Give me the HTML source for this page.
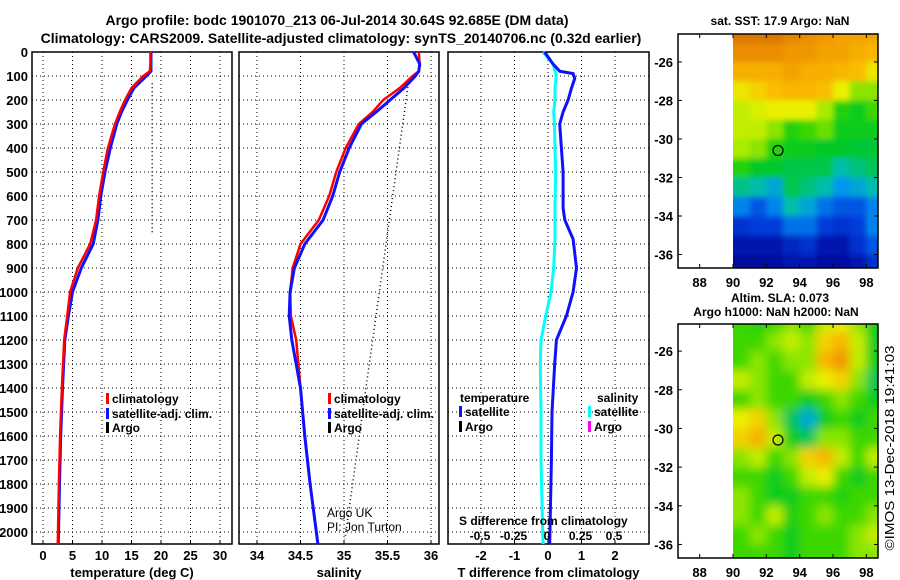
<!DOCTYPE html>
<html><head><meta charset="utf-8"><style>
body{margin:0;background:#fff;width:900px;height:580px;overflow:hidden}
svg{display:block;font-family:"Liberation Sans",Arial,sans-serif;font-weight:bold}
</style></head><body>
<svg id="c" width="900" height="580" viewBox="0 0 900 580" xmlns="http://www.w3.org/2000/svg">
<text x="337" y="25" font-size="14" text-anchor="middle">Argo profile: bodc 1901070_213 06-Jul-2014 30.64S 92.685E (DM data)</text>
<text x="341" y="43" font-size="14" text-anchor="middle">Climatology: CARS2009. Satellite-adjusted climatology: synTS_20140706.nc (0.32d earlier)</text>
<text x="780" y="25" font-size="12" text-anchor="middle">sat. SST: 17.9 Argo: NaN</text>
<text x="780" y="302" font-size="12" text-anchor="middle">Altim. SLA: 0.073</text>
<text x="776" y="316" font-size="12" text-anchor="middle">Argo h1000: NaN h2000: NaN</text>
<text transform="translate(894,448) rotate(-90)" font-size="12.5" font-weight="normal" text-anchor="middle" textLength="205" lengthAdjust="spacingAndGlyphs">©IMOS 13-Dec-2018 19:41:03</text>
<text x="327" y="517" font-size="12" font-weight="normal">Argo UK</text>
<text x="327" y="531" font-size="12" font-weight="normal">PI: Jon Turton</text>
<g id="g"></g>
</svg>
<script>
// ---- data ----
const depths = [0,50,80,100,150,200,250,300,400,500,600,700,800,900,1000,1100,1200,1400,1600,1800,2050];
const tempClim = [18.2,18.2,18.1,17.0,15.0,13.9,13.0,12.2,11.0,10.2,9.5,9.0,8.0,5.9,4.6,4.1,3.6,3.2,2.9,2.7,2.5];
const tempSat  = [18.3,18.3,18.3,17.5,15.4,14.3,13.3,12.5,11.4,10.5,9.8,9.3,8.5,6.5,5.0,4.3,3.7,3.3,3.0,2.8,2.6];
const salClim = [35.86,35.87,35.86,35.79,35.64,35.45,35.33,35.17,35.02,34.91,34.83,34.71,34.50,34.41,34.38,34.39,34.45,34.50,34.55,34.61,34.70];
const salSat  = [35.80,35.87,35.86,35.82,35.69,35.53,35.37,35.20,35.06,34.95,34.87,34.76,34.55,34.43,34.38,34.37,34.40,34.50,34.55,34.61,34.70];
const argoDepthT = [130,760];
const argoTemp = [18.5,18.5];
const argoDepthS = [130,783,2030];
const argoSal = [35.74,35.49,35.01];
const diffDepths = [0,50,80,90,110,150,200,250,300,400,500,650,700,780,900,1000,1100,1200,1300,1500,1700,2050];
const tDiff = [-0.1,0.15,0.35,0.75,0.8,0.7,0.6,0.45,0.35,0.4,0.45,0.45,0.5,0.75,0.85,0.75,0.55,0.25,0.2,0.12,0.1,0.05];
const sDiff = [-0.03,0.045,0.06,0.067,0.067,0.06,0.06,0.05,0.055,0.06,0.065,0.06,0.06,0.06,0.05,0.03,-0.01,-0.045,-0.05,-0.045,-0.045,-0.03];
const depthTicks = [0,100,200,300,400,500,600,700,800,900,1000,1100,1200,1300,1400,1500,1600,1700,1800,1900,2000];
const tempTicks = [0,5,10,15,20,25,30];
const salTicks = [34,34.5,35,35.5,36];
const tdTicks = [-2,-1,0,1,2];
const sdTicks = [-0.5,-0.25,0,0.25,0.5];
const mapLons = [88,90,92,94,96,98];
const mapLats = [-26,-28,-30,-32,-34,-36];
const sst = [
[0.85,0.85,0.85,0.82,0.8,0.78,0.75,0.75,0.75],
[0.8,0.8,0.8,0.78,0.78,0.75,0.75,0.72,0.7],
[0.72,0.72,0.72,0.75,0.72,0.72,0.7,0.68,0.62],
[0.62,0.65,0.68,0.7,0.7,0.68,0.6,0.5,0.5],
[0.55,0.58,0.6,0.6,0.6,0.52,0.42,0.4,0.45],
[0.55,0.55,0.5,0.42,0.45,0.48,0.4,0.4,0.4],
[0.52,0.5,0.42,0.4,0.4,0.38,0.38,0.37,0.37],
[0.42,0.38,0.38,0.36,0.36,0.36,0.3,0.33,0.35],
[0.32,0.3,0.25,0.36,0.33,0.3,0.22,0.25,0.3],
[0.2,0.15,0.2,0.3,0.25,0.18,0.15,0.15,0.2],
[0.1,0.12,0.12,0.18,0.18,0.12,0.1,0.12,0.2],
[0.05,0.05,0.05,0.08,0.1,0.05,0.05,0.1,0.15],
[0.02,0.02,0.03,0.05,0.05,0.03,0.03,0.05,0.1]];
const sla = [
[0.45,0.42,0.45,0.5,0.45,0.55,0.6,0.5,0.4],
[0.45,0.45,0.5,0.55,0.5,0.65,0.7,0.55,0.4],
[0.45,0.5,0.45,0.5,0.5,0.7,0.78,0.55,0.4],
[0.55,0.5,0.45,0.45,0.55,0.6,0.65,0.5,0.35],
[0.45,0.5,0.45,0.45,0.4,0.45,0.5,0.45,0.4],
[0.6,0.65,0.5,0.35,0.25,0.4,0.45,0.4,0.45],
[0.65,0.72,0.55,0.4,0.35,0.5,0.5,0.45,0.45],
[0.5,0.55,0.45,0.5,0.65,0.7,0.55,0.45,0.55],
[0.45,0.45,0.4,0.45,0.55,0.6,0.45,0.4,0.45],
[0.5,0.45,0.4,0.4,0.45,0.45,0.42,0.45,0.45],
[0.5,0.45,0.55,0.42,0.45,0.5,0.45,0.45,0.5],
[0.45,0.5,0.45,0.4,0.45,0.45,0.45,0.5,0.55],
[0.45,0.45,0.45,0.4,0.45,0.45,0.45,0.5,0.5]];
const argoLon = 92.7, argoLat = -30.6;

// ---- drawing ----
const NS='http://www.w3.org/2000/svg', G=document.getElementById('g');
function el(t,a,p){const e=document.createElementNS(NS,t);for(const k in a)e.setAttribute(k,a[k]);(p||G).appendChild(e);return e;}
const top0=52, bot=544;
const yD=d=>top0+d*0.24;
const panels=[
 {x0:32,x1:232,f:v=>43+v*5.9,ticks:tempTicks,label:'temperature (deg C)',name:'temperature-panel'},
 {x0:239,x1:439,f:v=>257+(v-34)*87,ticks:salTicks,label:'salinity',name:'salinity-panel'},
 {x0:448,x1:649,f:v=>548+v*33.5,ticks:tdTicks,label:'T difference from climatology',name:'difference-panel'}];
panels.forEach((p,i)=>{
  const g=el('g',{});
  
  
  depthTicks.forEach(d=>{
    if(d>0) el('line',{x1:p.x0,x2:p.x1,y1:yD(d),y2:yD(d),stroke:'#000','stroke-dasharray':'1 3','stroke-width':1},g);
    if(i==0){const t=el('text',{x:28,y:yD(d)+5,'font-size':13,'text-anchor':'end'},g);t.textContent=d;}
  });
  p.ticks.forEach(v=>{
    const x=p.f(v);
    el('line',{x1:x,x2:x,y1:top0,y2:bot,stroke:'#000','stroke-dasharray':'1 3'},g);
    el('line',{x1:x,x2:x,y1:bot,y2:bot-4,stroke:'#000'},g);
    const t=el('text',{x:x,y:560,'font-size':13,'text-anchor':'middle',fill:'#000'},g);t.textContent=v;
  });
  el('rect',{x:p.x0,y:top0,width:p.x1-p.x0,height:bot-top0,fill:'none',stroke:'#000','stroke-width':1.5},g);
  const l=el('text',{x:(p.x0+p.x1)/2,y:577,'font-size':13,'text-anchor':'middle'},g);l.textContent=p.label;
});
function line(xs,ds,f,col,w,name,dash){
  const pts=xs.map((v,k)=>f(v).toFixed(1)+','+yD(ds[k]).toFixed(1)).join(' ');
  const e=el('polyline',{points:pts,fill:'none',stroke:col,'stroke-width':w});
  if(dash)e.setAttribute('stroke-dasharray',dash);
  
  
}
const P=panels;
line(argoTemp,argoDepthT,P[0].f,'#000',1.5,'argo-temp-line','1 3');
line(tempSat,depths,P[0].f,'#1010ff',3,'temp-satellite-line');
line(tempClim,depths,P[0].f,'#ff0000',2.5,'temp-climatology-line');
line(argoSal,argoDepthS,P[1].f,'#000',1.5,'argo-sal-line','1 3');
line(salClim,depths,P[1].f,'#ff0000',2.5,'sal-climatology-line');
line(salSat,depths,P[1].f,'#1010ff',3,'sal-satellite-line');
const sf=v=>547+v*134;
line(sDiff,diffDepths,sf,'#00ffff',3,'sal-diff-line');
line(tDiff,diffDepths,P[2].f,'#1010ff',3,'temp-diff-line');
function leg(x,y,col,txt,name){
  const g=el('g',{});
  
  
  el('rect',{x:x,y:y-10,width:3,height:11,fill:col},g);
  const t=el('text',{x:x+6,y:y,'font-size':12},g);t.textContent=txt;
}
[106,328].forEach((x,i)=>{
  leg(x,403,'#ff0000','climatology','legend-climatology-'+i);
  leg(x,418,'#1010ff','satellite-adj. clim.','legend-satellite-'+i);
  leg(x,432,'#000','Argo','legend-argo-'+i);
});
let t=el('text',{x:460,y:402,'font-size':12});t.textContent='temperature';
t=el('text',{x:597,y:402,'font-size':12});t.textContent='salinity';
leg(459,416,'#1010ff','satellite','legend-t-satellite');
leg(459,431,'#000','Argo','legend-t-argo');
leg(588,416,'#00ffff','satellite','legend-s-satellite');
leg(588,431,'#ff00ff','Argo','legend-s-argo');
t=el('text',{x:459,y:525,'font-size':12});t.textContent='S difference from climatology';
sdTicks.forEach(v=>{const e=el('text',{x:sf(v),y:540,'font-size':12,'text-anchor':'middle'});e.textContent=v;});
const cstops=[[0,[0,0,140]],[0.12,[0,60,220]],[0.22,[0,150,240]],[0.3,[0,190,170]],[0.38,[0,200,40]],[0.45,[60,215,0]],[0.52,[170,235,0]],[0.6,[235,240,0]],[0.68,[250,190,0]],[0.78,[240,150,0]],[0.9,[205,95,0]],[1,[180,60,0]]];
function cmap(v){for(let i=1;i<cstops.length;i++){if(v<=cstops[i][0]){const a=cstops[i-1],b=cstops[i],t=(v-a[0])/(b[0]-a[0]);return 'rgb('+a[1].map((c,k)=>Math.round(c+(b[1][k]-c)*t)).join(',')+')';}}return 'rgb(180,60,0)';}
function map(y0,y1,latTop,grid,name,blur){
  const x0=678,x1=878;
  const lx=lon=>733+(lon-90)*16.67;
  const ly=lat=>y0+(latTop-lat)*((y1-y0)/(latTop+36.7));
  const g=el('g',{});
  
  
  const cid='clip'+name;
  const cp=el('clipPath',{id:cid},g);el('rect',{x:733,y:y0,width:x1-733,height:y1-y0},cp);
  const h=el('g',{'clip-path':'url(#'+cid+')'},g);
  const inner=el('g',{filter:blur?'url(#bl)':'url(#bl2)'},h);
  grid.forEach((row,r)=>row.forEach((v,c)=>{
    const lat=-25+0.5-r, lon=90+c;
    const ya=ly(Math.min(latTop+2,lat+(r==0?2:0.5))), yb=ly(lat-0.5-(r==grid.length-1?1:0));
    el('rect',{x:lx(lon)-(c==0?10:0),y:ya,width:16.67+(c==8?17:0.5)+(c==0?10:0),height:yb-ya+0.5,fill:cmap(v)},inner);
  }));
  el('rect',{x:x0,y:y0,width:x1-x0,height:y1-y0,fill:'none',stroke:'#000','stroke-width':1.5},g);
  mapLons.forEach(lon=>{const x=lx(lon);el('line',{x1:x,x2:x,y1:y1,y2:y1-4,stroke:'#000'},g);el('line',{x1:x,x2:x,y1:y0,y2:y0+4,stroke:'#000'},g);
    const e=el('text',{x:x,y:y1+19,'font-size':13,'text-anchor':'middle'},g);e.textContent=lon;});
  mapLats.forEach(lat=>{const y=ly(lat);el('line',{x1:x1,x2:x1-4,y1:y,y2:y,stroke:'#000'},g);el('line',{x1:x0,x2:x0+4,y1:y,y2:y,stroke:'#000'},g);
    const e=el('text',{x:673,y:y+5,'font-size':13,'text-anchor':'end'},g);e.textContent=lat;});
  const c=el('circle',{cx:lx(argoLon),cy:ly(argoLat),r:5,fill:'none',stroke:'#000','stroke-width':1.2},g);
  
  
}
const defs=el('defs',{});
const f=el('filter',{id:'bl',x:'-10%',y:'-10%',width:'120%',height:'120%'},defs);el('feGaussianBlur',{stdDeviation:5},f);
const f2=el('filter',{id:'bl2',x:'-10%',y:'-10%',width:'120%',height:'120%'},defs);el('feGaussianBlur',{stdDeviation:3},f2);
map(34,268,-24.55,sst,'sst-map',false);
map(324,558,-24.6,sla,'sla-map',true);
</script>
</body></html>
